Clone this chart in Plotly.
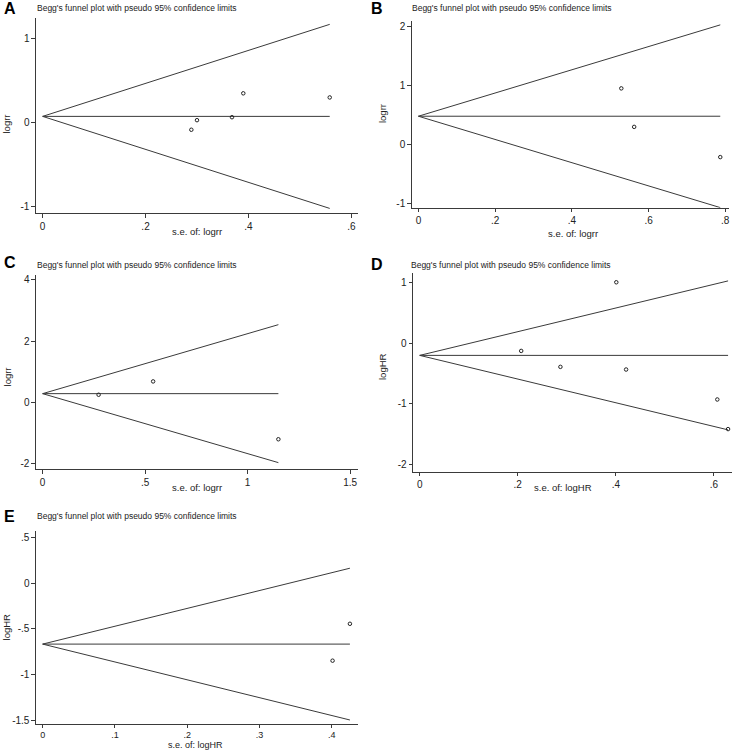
import plotly.graph_objects as go

W, H = 736, 751

# ---- data ----
se_A = [0.289, 0.300, 0.368, 0.390, 0.558]
eff_A = [-0.084, 0.03, 0.065, 0.349, 0.30]
pooled_A, semax_A = 0.075, 0.558

se_B = [0.529, 0.5625, 0.787]
eff_B = [0.95, 0.30, -0.21]
pooled_B, semax_B = 0.48, 0.787

se_C = [0.273, 0.539, 1.150]
eff_C = [0.244, 0.68, -1.21]
pooled_C, semax_C = 0.28, 1.150

se_D = [0.207, 0.287, 0.401, 0.421, 0.607, 0.629]
eff_D = [-0.126, -0.39, 1.01, -0.434, -0.93, -1.42]
pooled_D, semax_D = -0.2, 0.629

se_E = [0.401, 0.425]
eff_E = [-0.848, -0.443]
pooled_E, semax_E = -0.666, 0.425

xticks_A = [0, 0.2, 0.4, 0.6]; xtext_A = ["0", ".2", ".4", ".6"]
yticks_A = [-1, 0, 1]; ytext_A = ["-1", "0", "1"]
xticks_B = [0, 0.2, 0.4, 0.6, 0.8]; xtext_B = ["0", ".2", ".4", ".6", ".8"]
yticks_B = [-1, 0, 1, 2]; ytext_B = ["-1", "0", "1", "2"]
xticks_C = [0, 0.5, 1, 1.5]; xtext_C = ["0", ".5", "1", "1.5"]
yticks_C = [-2, 0, 2, 4]; ytext_C = ["-2", "0", "2", "4"]
xticks_D = [0, 0.2, 0.4, 0.6]; xtext_D = ["0", ".2", ".4", ".6"]
yticks_D = [-2, -1, 0, 1]; ytext_D = ["-2", "-1", "0", "1"]
xticks_E = [0, 0.1, 0.2, 0.3, 0.4]; xtext_E = ["0", ".1", ".2", ".3", ".4"]
yticks_E = [-1.5, -1, -0.5, 0, 0.5]; ytext_E = ["-1.5", "-1", "-.5", "0", ".5"]

title_text = "Begg's funnel plot with pseudo 95% confidence limits"

panels = [
    dict(letter="A", se=se_A, eff=eff_A, pooled=pooled_A, semax=semax_A,
         xt=xticks_A, xtt=xtext_A, yt=yticks_A, ytt=ytext_A,
         xlab="s.e. of: logrr", ylab="logrr",
         box=(36, 358, 17, 213), xr=(-0.013, 0.612), yr=(-1.075, 1.245),
         lp=(2, 8), tp=(35, 7), xlp=(197, 231), ylp=(7, 123), xtl=3.5, xtf=10, xlf=9.5),
    dict(letter="B", se=se_B, eff=eff_B, pooled=pooled_B, semax=semax_B,
         xt=xticks_B, xtt=xtext_B, yt=yticks_B, ytt=ytext_B,
         xlab="s.e. of: logrr", ylab="logrr",
         box=(412.3, 729.7, 20, 207.7), xr=(-0.0174, 0.809), yr=(-1.067, 2.089),
         lp=(370, 8), tp=(411, 7), xlp=(573.5, 233), ylp=(383, 113), xtl=3.5, xtf=10, xlf=9.5),
    dict(letter="C", se=se_C, eff=eff_C, pooled=pooled_C, semax=semax_C,
         xt=xticks_C, xtt=xtext_C, yt=yticks_C, ytt=ytext_C,
         xlab="s.e. of: logrr", ylab="logrr",
         box=(36, 358, 275, 470), xr=(-0.0326, 1.536), yr=(-2.186, 4.16),
         lp=(2, 263), tp=(35, 265), xlp=(197, 488), ylp=(8, 377), xtl=3.5, xtf=10, xlf=9.5),
    dict(letter="D", se=se_D, eff=eff_D, pooled=pooled_D, semax=semax_D,
         xt=xticks_D, xtt=xtext_D, yt=yticks_D, ytt=ytext_D,
         xlab="s.e. of: logHR", ylab="logHR",
         box=(413.7, 733, 273, 472.7), xr=(-0.0134, 0.637), yr=(-2.127, 1.165),
         lp=(370, 265), tp=(410, 265), xlp=(564, 488), ylp=(383, 367), xtl=3.5, xtf=10, xlf=9.5),
    dict(letter="E", se=se_E, eff=eff_E, pooled=pooled_E, semax=semax_E,
         xt=xticks_E, xtt=xtext_E, yt=yticks_E, ytt=ytext_E,
         xlab="s.e. of: logHR", ylab="logHR",
         box=(36, 358, 531.7, 726), xr=(-0.00925, 0.4355), yr=(-1.544, 0.58),
         lp=(2, 518), tp=(35, 517), xlp=(196, 746.5), ylp=(7, 628), xtl=2.5, xtf=9, xlf=9),
]

LINE = "#3a3a3a"
FONT = "Liberation Sans, Arial, sans-serif"

fig = go.Figure()
annotations = []
layout_axes = {}

for i, p in enumerate(panels):
    n = "" if i == 0 else str(i + 1)
    xa, ya = "x" + n, "y" + n
    x0, x1, y0, y1 = p["box"]
    z = 1.96
    for sign in (1, -1, 0):
        fig.add_trace(go.Scatter(x=[0, p["semax"]],
                                 y=[p["pooled"], p["pooled"] + sign * z * p["semax"]],
                                 mode="lines", line=dict(color=LINE, width=1),
                                 xaxis=xa, yaxis=ya, showlegend=False, hoverinfo="skip"))
    fig.add_trace(go.Scatter(x=p["se"], y=p["eff"], mode="markers",
                             marker=dict(symbol="circle-open", size=3.5, color="#222",
                                         line=dict(width=1, color="#222")),
                             xaxis=xa, yaxis=ya, showlegend=False))
    common = dict(showgrid=False, zeroline=False, showline=True, linecolor=LINE, linewidth=1,
                  ticks="outside", ticklen=3.5, tickcolor=LINE, mirror=False,
                  tickfont=dict(family=FONT, size=10, color="#222"), tickmode="array")
    layout_axes["xaxis" + n] = dict(common, domain=[x0 / W, x1 / W], range=list(p["xr"]),
                                    anchor=ya, tickvals=p["xt"], ticktext=p["xtt"],
                                    ticklen=p["xtl"],
                                    tickfont=dict(family=FONT, size=p["xtf"], color="#222"))
    layout_axes["yaxis" + n] = dict(common, domain=[1 - y1 / H, 1 - y0 / H], range=list(p["yr"]),
                                    anchor=xa, tickvals=p["yt"], ticktext=p["ytt"])
    annotations.append(dict(text="<b>" + p["letter"] + "</b>", x=p["lp"][0] / W, y=1 - p["lp"][1] / H,
                            xref="paper", yref="paper", xanchor="left", yanchor="middle",
                            showarrow=False, font=dict(family=FONT, size=16, color="#000")))
    annotations.append(dict(text=title_text, x=p["tp"][0] / W, y=1 - p["tp"][1] / H,
                            xref="paper", yref="paper", xanchor="left", yanchor="middle",
                            showarrow=False, font=dict(family=FONT, size=8.5, color="#222")))
    annotations.append(dict(text=p["xlab"], x=p["xlp"][0] / W, y=1 - p["xlp"][1] / H,
                            xref="paper", yref="paper", xanchor="center", yanchor="middle",
                            showarrow=False, font=dict(family=FONT, size=p["xlf"], color="#222")))
    annotations.append(dict(text=p["ylab"], x=p["ylp"][0] / W, y=1 - p["ylp"][1] / H,
                            xref="paper", yref="paper", xanchor="center", yanchor="middle",
                            textangle=-90, showarrow=False,
                            font=dict(family=FONT, size=9.5, color="#222")))

fig.update_layout(width=W, height=H, margin=dict(l=0, r=0, t=0, b=0),
                  paper_bgcolor="white", plot_bgcolor="white",
                  annotations=annotations, **layout_axes)

fig.write_html("out.html", config={"displayModeBar": False},
               post_script="document.body.style.margin='0';document.body.style.overflow='hidden';")
